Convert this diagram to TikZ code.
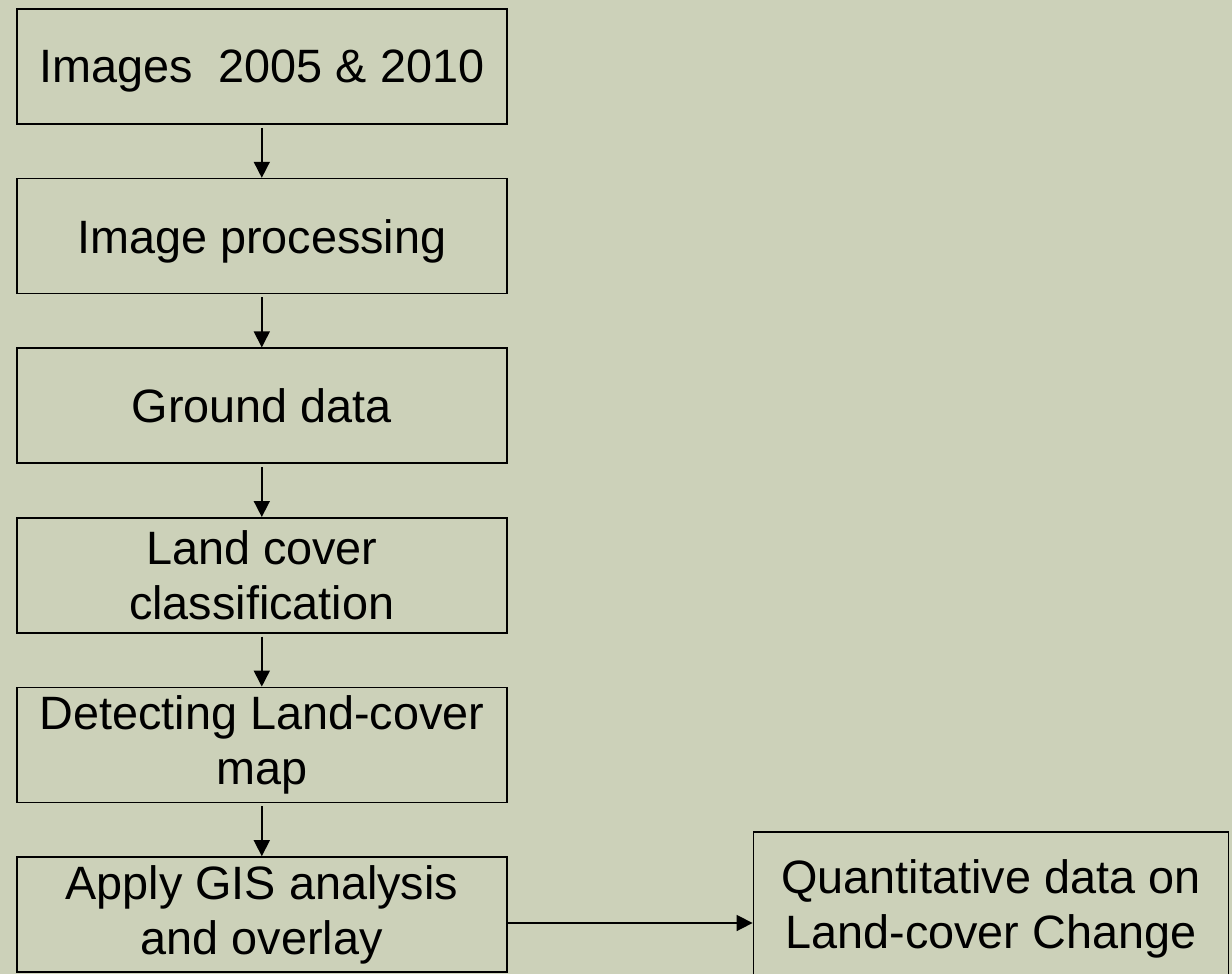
\documentclass[tikz,border=0pt]{standalone}
\usepackage{fontspec}
\setmainfont{Liberation Sans}
\usepackage{tikz}
\usetikzlibrary{shapes,arrows,positioning}
\usetikzlibrary{arrows.meta}
\definecolor{slide}{RGB}{204,209,185}

\begin{document}
\begin{tikzpicture}[box/.style={draw, line width=0.8pt, minimum width=245pt, minimum height=57.5pt, inner sep=0pt, align=center, font=\fontsize{23.4}{27.6}\selectfont},
    node distance=26.5pt, arr/.style={line width=0.8pt, -{Triangle[width=8pt,length=8pt]}}]
    \fill[slide] (0,0) rectangle (616pt,-487pt);
    \useasboundingbox (0,0) rectangle (616pt,-487pt);
    \node[box, text depth=0pt] (images) at (130.9pt,-33.25pt) {Images\ \ 2005 \& 2010};
    \node[box, text depth=0pt, below=of images] (processing) {Image processing};
    \node[box, below=of processing] (ground) {Ground data};
    \node[box, below=of ground] (classif) {Land cover\\classification};
    \node[box, below=of classif] (detect) {Detecting Land-cover\\map};
    \node[box, below=of detect] (apply) {Apply GIS analysis\\and overlay};
    \node[box, minimum width=237.5pt, minimum height=77pt, right=122.5pt of apply, yshift=2.75pt] (quant) {Quantitative data on\\Land-cover Change};
    \draw[arr, shorten <=1.5pt] (images) -- (processing);
    \draw[arr, shorten <=1.5pt] (processing) -- (ground);
    \draw[arr, shorten <=1.5pt] (ground) -- (classif);
    \draw[arr, shorten <=1.5pt] (classif) -- (detect);
    \draw[arr, shorten <=1.5pt] (detect) -- (apply);
    \draw[arr] ([yshift=-4.25pt]apply.east) -- ([yshift=-4.25pt]apply.east -| quant.west);
\end{tikzpicture}
\end{document}
